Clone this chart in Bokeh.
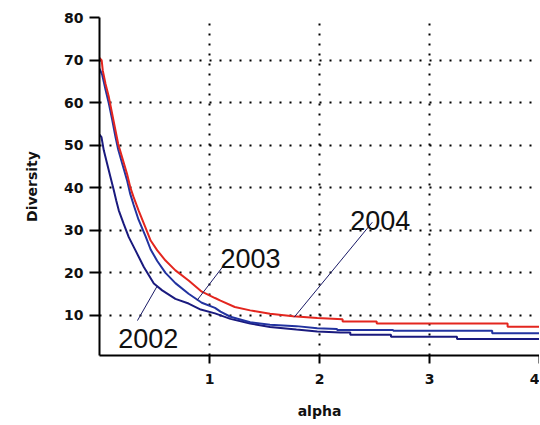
from bokeh.plotting import figure
from bokeh.models import Range1d, FixedTicker, Label
from bokeh.embed import file_html
from bokeh.resources import INLINE

# ---- data ----
alpha_2004 = [0.00, 0.02, 0.03, 0.055, 0.085, 0.115, 0.145, 0.17, 0.205, 0.25, 0.28, 0.31,
              0.355, 0.42, 0.465, 0.525, 0.60, 0.69, 0.81, 0.93, 1.05, 1.10, 1.23, 1.37,
              1.55, 1.76, 1.98, 2.21, 2.21, 2.52, 2.52, 3.71, 3.71, 4.05]
div_2004 = [70.5, 69.9, 67.5, 64.4, 61.3, 57.4, 53.5, 50.3, 47.2, 43.3, 40.1, 37.8,
            34.7, 30.5, 27.6, 25.3, 22.9, 20.6, 18.2, 15.6, 14.1, 13.5, 12.0, 11.2,
            10.4, 9.8, 9.4, 9.1, 8.6, 8.6, 8.1, 8.1, 7.35, 7.35]

alpha_2003 = [0.0, 0.025, 0.055, 0.085, 0.115, 0.145, 0.17, 0.205, 0.25, 0.28, 0.31, 0.355,
              0.42, 0.465, 0.525, 0.60, 0.69, 0.81, 0.93, 1.05, 1.10, 1.19, 1.37, 1.55,
              1.79, 1.98, 2.16, 2.16, 2.67, 2.67, 3.57, 3.57, 4.05]
div_2003 = [68.0, 66.5, 63.0, 59.8, 56.0, 52.0, 49.0, 45.8, 41.8, 38.5, 36.0, 32.5,
            28.5, 25.5, 22.8, 20.0, 17.6, 15.1, 13.0, 11.8, 10.9, 9.7, 8.4, 7.8,
            7.5, 7.0, 6.8, 6.6, 6.6, 6.4, 6.4, 5.85, 5.85]

alpha_2002 = [0.0, 0.018, 0.039, 0.07, 0.10, 0.13, 0.152, 0.175, 0.22, 0.266, 0.327, 0.403,
              0.494, 0.57, 0.69, 0.81, 0.92, 1.05, 1.19, 1.37, 1.55, 1.79, 1.98, 2.19,
              2.28, 2.28, 2.65, 2.65, 3.25, 3.25, 4.05]
div_2002 = [52.5, 51.9, 48.8, 45.6, 42.5, 39.4, 37.0, 34.7, 31.5, 28.4, 25.3, 21.4,
            17.5, 15.9, 13.9, 12.8, 11.4, 10.5, 9.2, 8.1, 7.3, 6.7, 6.25, 6.0,
            6.0, 5.5, 5.5, 5.0, 5.0, 4.5, 4.5]

x_ticks = [1, 2, 3, 4]
y_ticks = [10, 20, 30, 40, 50, 60, 70, 80]

years = ["2002", "2003", "2004"]
# annotation text anchors (alpha, diversity) and leader lines
label_x = [0.17, 1.10, 2.28]
label_y = [4.5, 23.3, 32.3]
leader_x0 = [0.345, 1.175, 2.48]
leader_y0 = [8.8, 23.3, 31.9]
leader_x1 = [0.52, 0.888, 1.77]
leader_y1 = [16.7, 13.6, 9.6]

colors = {"2002": "#1a1a7e", "2003": "#2233a0", "2004": "#e3261f"}

p = figure(width=539, height=424, output_backend="svg", toolbar_location=None,
           x_range=Range1d(0, 4.0), y_range=Range1d(0.6, 80),
           min_border_left=99, min_border_right=0, min_border_top=17, min_border_bottom=69,
           background_fill_color="white", border_fill_color="white")
p.outline_line_color = None

p.line(alpha_2002, div_2002, line_color=colors["2002"], line_width=2)
p.line(alpha_2003, div_2003, line_color=colors["2003"], line_width=2)
p.line(alpha_2004, div_2004, line_color=colors["2004"], line_width=2)

p.segment(x0=leader_x0, y0=leader_y0, x1=leader_x1, y1=leader_y1,
          line_color="#1a1a66", line_width=1)

for yr, lx, ly in zip(years, label_x, label_y):
    p.add_layout(Label(x=lx, y=ly, text=yr, text_font="Liberation Sans",
                       text_font_size="27px", text_color="#111111",
                       text_baseline="alphabetic", text_align="left"))

for ax in (p.xaxis, p.yaxis):
    ax.axis_line_color = "black"
    ax.axis_line_width = 2
    ax.major_tick_line_color = "black"
    ax.major_tick_line_width = 2
    ax.minor_tick_line_color = None
    ax.major_tick_in = 0
    ax.major_label_text_font = "DejaVu Sans"
    ax.major_label_text_font_style = "bold"
    ax.major_label_text_font_size = "14px"
    ax.major_label_text_color = "#111111"
    ax.axis_label_text_font = "DejaVu Sans"
    ax.axis_label_text_font_style = "bold"
    ax.axis_label_text_font_size = "14px"
    ax.axis_label_text_color = "#111111"

p.xaxis.ticker = FixedTicker(ticks=x_ticks)
p.yaxis.ticker = FixedTicker(ticks=y_ticks)
p.xaxis.major_tick_out = 8
p.yaxis.major_tick_out = 10
p.xaxis.major_label_standoff = 10
p.yaxis.major_label_standoff = 6
p.xaxis.axis_label = "alpha"
p.yaxis.axis_label = "Diversity"
p.xaxis.axis_label_standoff = 16
p.yaxis.axis_label_standoff = 21

p.xgrid.ticker = FixedTicker(ticks=x_ticks)
p.ygrid.ticker = FixedTicker(ticks=y_ticks)
for g in (p.xgrid, p.ygrid):
    g.grid_line_color = "black"
    g.grid_line_width = 2
    g.grid_line_dash = "2 8"

open("out.html", "w").write(file_html(p, INLINE))
